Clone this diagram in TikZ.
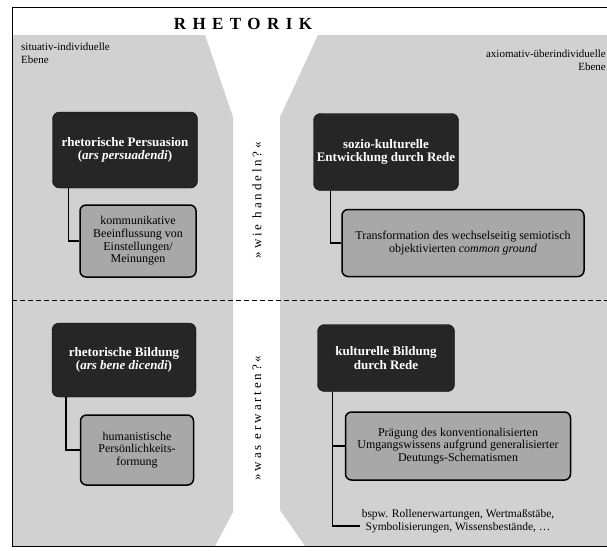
\documentclass[tikz,border=0pt]{standalone}
\usepackage{fontspec}
\setmainfont{Liberation Serif}
\usepackage{tikz}
\usetikzlibrary{positioning}

\begin{document}
\begin{tikzpicture}[
    x=1pt, y=-1pt,
    every node/.style={align=center, inner sep=2pt},
    level/.style={font=\fontsize{11}{13}\selectfont},
    thesis/.style={rectangle, rounded corners=7pt, draw=black, fill=black!85, text=white, font=\fontsize{13}{13.5}\selectfont\bfseries},
    detail/.style={rectangle, rounded corners=6pt, draw=black, line width=1.5pt, fill=black!34, font=\fontsize{12}{12.6}\selectfont},
    question/.style={rotate=90, font=\fontsize{13}{15}\selectfont\addfontfeatures{LetterSpace=22}},
    conn/.style={line width=1.5pt}
]
\useasboundingbox (0,0) rectangle (607,550);

% Background areas
\fill[black!18] (12,35) -- (205,35) -- (233,117) -- (233,512) -- (215,546) -- (12,546) -- cycle;
\fill[black!18] (318,35) -- (280,117) -- (280,510) -- (305,546) -- (607,546) -- (607,35) -- cycle;

% Frame and separator
\draw[line width=0.8pt] (607,7) -- (12,7) -- (12,546) -- (607,546);
\draw[line width=1pt, dash pattern=on 5pt off 3pt] (12,300) -- (607,300);

% Title and levels
\node[font=\fontsize{17}{19}\selectfont\bfseries\addfontfeatures{LetterSpace=38}] (title) at (243,24) {RHETORIK};
\node[level, anchor=north west, align=left] (situativ) at (19,41) {situativ-individuelle\\Ebene};
\node[level, anchor=north east, align=right] (axiomativ) at (608,48) {axiomativ-überindividuelle\\Ebene};

% Upper half: wie handeln?
\node[thesis, minimum width=145pt, minimum height=76pt] (persuasion) at (125,150) {rhetorische Persuasion\\(\textit{ars persuadendi})};
\node[detail, minimum width=116pt, minimum height=72pt] (beeinflussung) at (138,241) {kommunikative\\Beeinflussung von\\Einstellungen/\\Meinungen};
\node[thesis, minimum width=145pt, minimum height=77pt] (entwicklung) at (386,152) {sozio-kulturelle\\Entwicklung durch Rede};
\node[detail, minimum width=242pt, minimum height=67pt] (transformation) at (463,243) {Transformation des wechselseitig semiotisch\\objektivierten \textit{common ground}};
\node[question] (handeln) at (257,200) {»wie handeln?«};

% Lower half: was erwarten?
\node[thesis, minimum width=144pt, minimum height=74pt] (bildung) at (124,360) {rhetorische Bildung\\(\textit{ars bene dicendi})};
\node[detail, minimum width=113pt, minimum height=70pt] (formung) at (137,450) {humanistische\\Persönlichkeits-\\formung};
\node[thesis, minimum width=137pt, minimum height=67pt] (kultur) at (386,358) {kulturelle Bildung\\durch Rede};
\node[detail, minimum width=225pt, minimum height=68pt] (praegung) at (458,446) {Prägung des konventionalisierten\\Umgangswissens aufgrund generalisierter\\Deutungs-Schematismen};
\node[font=\fontsize{11.5}{12.5}\selectfont] (beispiele) at (458,521) {bspw. Rollenerwartungen, Wertmaßstäbe,\\Symbolisierungen, Wissensbestände, \dots};
\node[question] (erwarten) at (257,418) {»was erwarten?«};

% Connectors
\draw[conn] ([xshift=16pt]persuasion.south west) |- (beeinflussung.west);
\draw[conn] ([xshift=17pt]entwicklung.south west) |- (transformation.west);
\draw[conn] ([xshift=14pt]bildung.south west) |- (formung.west);
\draw[conn] ([xshift=15pt]kultur.south west) |- (praegung.west);
\draw[conn] ([xshift=15pt]kultur.south west) |- ([yshift=-5pt]beispiele.west);

\end{tikzpicture}
\end{document}
